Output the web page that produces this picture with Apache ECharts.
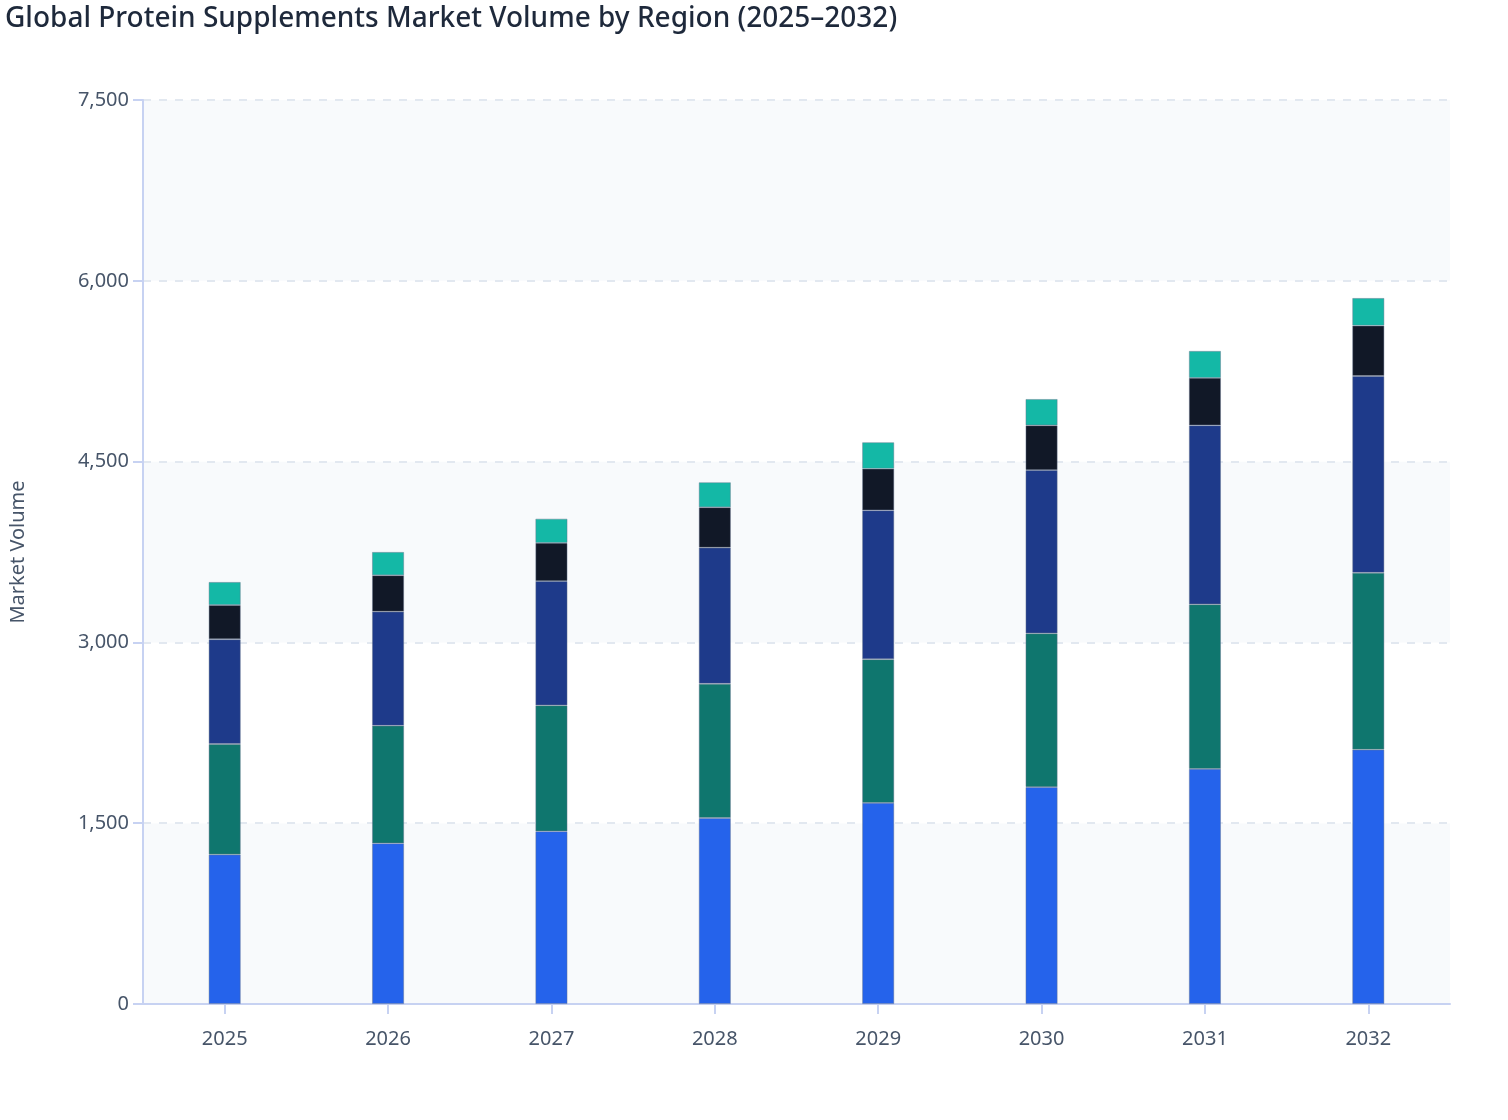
<!DOCTYPE html>
<html>
<head>
<meta charset="utf-8">
<script src="https://cdn.jsdelivr.net/npm/echarts@6/dist/echarts.min.js"></script>
<style>
html,body{margin:0;padding:0;background:#fff;}
#chart{width:1508px;height:1120px;}
</style>
</head>
<body>
<div id="chart"></div>
<script>
const years = ['2025','2026','2027','2028','2029','2030','2031','2032'];
const northAmerica = [1240, 1333, 1433, 1543, 1668, 1800, 1950, 2110];
const europe = [917, 976, 1045, 1114, 1192, 1275, 1366, 1468];
const asiaPacific = [869, 946, 1031, 1129, 1236, 1355, 1485, 1632];
const latinAmerica = [284, 302, 316, 335, 345, 371, 393, 418];
const middleEastAfrica = [191, 193, 201, 207, 219, 218, 224, 229];

const seriesDefs = [
  {name: 'North America', data: northAmerica, color: '#2563eb'},
  {name: 'Europe', data: europe, color: '#0f766e'},
  {name: 'Asia Pacific', data: asiaPacific, color: '#1e3a8a'},
  {name: 'Latin America', data: latinAmerica, color: '#111827'},
  {name: 'Middle East & Africa', data: middleEastAfrica, color: '#14b8a6'}
];

const chart = echarts.init(document.getElementById('chart'));
chart.setOption({
  animation: false,
  backgroundColor: '#ffffff',
  title: {
    text: 'Global Protein Supplements Market Volume by Region (2025–2032)',
    left: 0, top: 0,
    textStyle: {fontFamily: 'Noto Sans', fontSize: 28, fontWeight: 500, color: '#1e293b'}
  },
  grid: {left: 142, right: 58, top: 100, bottom: 116, containLabel: false},
  xAxis: {
    type: 'category',
    data: years,
    axisLine: {lineStyle: {color: '#c7d2f2', width: 2}},
    axisTick: {show: true, alignWithLabel: true, length: 10, lineStyle: {color: '#c7d2f2', width: 2}},
    axisLabel: {color: '#475569', fontSize: 20, fontFamily: 'Noto Sans', margin: 25}
  },
  yAxis: {
    type: 'value',
    min: 0, max: 7500, interval: 1500,
    name: 'Market Volume',
    nameLocation: 'middle',
    nameGap: 115,
    nameTextStyle: {color: '#475569', fontSize: 20, fontFamily: 'Noto Sans'},
    axisLine: {show: true, lineStyle: {color: '#c7d2f2', width: 2}},
    axisTick: {show: true, length: 10, lineStyle: {color: '#c7d2f2', width: 2}},
    axisLabel: {color: '#475569', fontSize: 20, fontFamily: 'Noto Sans', margin: 14,
      formatter: v => v.toLocaleString('en-US')},
    splitLine: {show: true, lineStyle: {color: '#e2e8f0', type: [8, 8], width: 2}},
    splitArea: {show: true, areaStyle: {color: ['#f8fafc', '#ffffff']}}
  },
  series: seriesDefs.map(s => ({
    name: s.name,
    type: 'bar',
    stack: 'total',
    barWidth: 32,
    data: s.data,
    itemStyle: {color: s.color, borderColor: 'rgba(100,116,139,0.55)', borderWidth: 0.8}
  }))
});
</script>
</body>
</html>
